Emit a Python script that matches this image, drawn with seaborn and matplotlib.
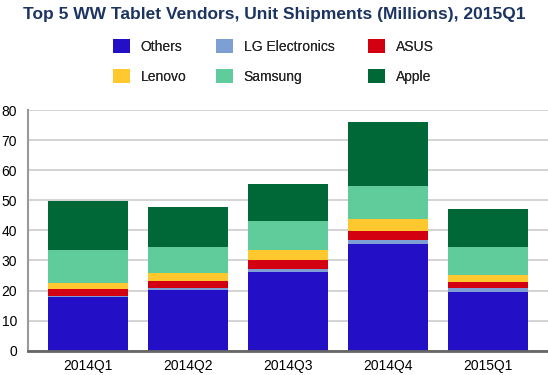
import matplotlib
matplotlib.use("Agg")
import matplotlib.pyplot as plt
from matplotlib.patches import Patch
import seaborn as sns
import pandas as pd
import numpy as np

quarters = ["2014Q1", "2014Q2", "2014Q3", "2014Q4", "2015Q1"]
vendors = ["Others", "LG Electronics", "ASUS", "Lenovo", "Samsung", "Apple"]
others = [18.0, 20.3, 26.2, 35.5, 19.5]
lg = [0.3, 0.5, 0.9, 1.3, 1.5]
asus = [2.2, 2.5, 3.2, 3.0, 1.7]
lenovo = [2.1, 2.5, 3.2, 3.9, 2.6]
samsung = [10.9, 8.7, 9.6, 11.0, 9.1]
apple = [16.4, 13.2, 12.3, 21.4, 12.6]
colors = ["#2310c6", "#7d9fd3", "#d20010", "#ffc82f", "#60cb9b", "#006837"]

sns.set_theme(style="white")
plt.rcParams["font.family"] = ["Liberation Sans", "DejaVu Sans"]

df = pd.DataFrame({"quarter": quarters, "Others": others, "LG Electronics": lg,
                   "ASUS": asus, "Lenovo": lenovo, "Samsung": samsung, "Apple": apple})
cum = df[vendors].cumsum(axis=1)

fig = plt.figure(figsize=(5.48, 3.75), dpi=100)
ax = fig.add_axes([28 / 548, (375 - 350.7) / 375, 1 - 28 / 548, (350.7 - 110) / 375])

for v, c in zip(reversed(vendors), reversed(colors)):
    sns.barplot(x=df["quarter"], y=cum[v], color=c, width=0.8, errorbar=None,
                ax=ax, saturation=1, edgecolor="none", linewidth=0, zorder=3)

ax.set_xlim(-0.6, 4.6)
ax.set_ylim(0, 80)
ax.set_yticks(np.arange(0, 81, 10))
ax.yaxis.grid(True, color="#cccccc", linewidth=1.2, zorder=0)
ax.set_axisbelow(True)
ax.set_xlabel("")
ax.set_ylabel("")
for s in ["top", "right"]:
    ax.spines[s].set_visible(False)
ax.spines["left"].set_color("#999999")
ax.spines["left"].set_linewidth(1.5)
ax.spines["bottom"].set_color("#666666")
ax.spines["bottom"].set_linewidth(2)
ax.spines["bottom"].set_zorder(5)
ax.tick_params(axis="both", length=0, labelsize=10, colors="black")
ax.tick_params(axis="y", pad=8)
ax.tick_params(axis="x", pad=6)

fig.text(0.5, 1 - 15 / 375, "Top 5 WW Tablet Vendors, Unit Shipments (Millions), 2015Q1",
         ha="center", va="center", fontsize=12.5, fontweight="bold", color="#1c3461")

cols = [(0, 3), (1, 4), (2, 5)]
xs = [113, 216, 368]
for (i, j), x in zip(cols, xs):
    handles = [Patch(facecolor=colors[i], edgecolor="none"),
               Patch(facecolor=colors[j], edgecolor="none")]
    leg = fig.legend(handles, [vendors[i], vendors[j]], loc="upper left",
                     bbox_to_anchor=(x / 548, 1 - 39 / 375), frameon=False,
                     borderpad=0, borderaxespad=0, handlelength=1.2, handleheight=1.2,
                     handletextpad=0.8, labelspacing=1.1, fontsize=10)
    fig.add_artist(leg)

fig.savefig("out.png", dpi=100)
